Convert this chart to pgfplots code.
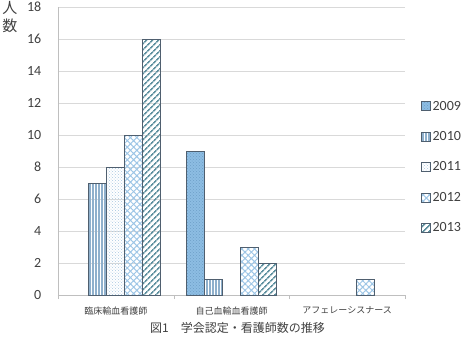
\documentclass[border=0pt]{standalone}
\usepackage{fontspec}
\setmainfont{Carlito}
\newfontfamily\cjk{Noto Sans CJK JP}
\usepackage{pgfplots}
\pgfplotsset{compat=1.18}
\usetikzlibrary{patterns,patterns.meta}
\definecolor{edge}{HTML}{4F5F6F}
\definecolor{blueA}{HTML}{8DBDE3}
\definecolor{dotA}{HTML}{6E9FC8}
\definecolor{lineB}{HTML}{8FB0CC}
\definecolor{dotC}{HTML}{A9C8E0}
\definecolor{hatchD}{HTML}{9EC6E6}
\definecolor{lineE}{HTML}{5E909F}
\definecolor{gridc}{HTML}{D9D9D9}
\definecolor{axisc}{HTML}{BFBFBF}
\definecolor{txt}{HTML}{404040}
\begin{document}
\begin{tikzpicture}
\useasboundingbox (-58pt,-43pt) rectangle (410pt,295pt);
\begin{axis}[
  at={(0,0)}, anchor=south west,
  scale only axis, width=347pt, height=288pt,
  xmin=-0.5, xmax=2.5, ymin=0, ymax=18,
  ybar=0pt, bar width=18pt,
  xtick={0,1,2},
  xticklabels={臨床輸血看護師,自己血輸血看護師,アフェレーシスナース},
  xticklabel style={font=\cjk\fontsize{9}{11}\selectfont, yshift=-4pt, text=txt},
  minor xtick={-0.5,0.5,1.5,2.5},
  major x tick style={draw=none},
  minor x tick style={axisc},
  minor tick length=4pt,
  tick align=outside, xtick pos=bottom, ytick pos=left,
  ytick={0,2,...,18},
  major y tick style={draw=none},
  yticklabel style={font=\fontsize{14}{16}\selectfont, xshift=-9pt, text=txt},
  /pgf/number format/assume math mode=true,
  ymajorgrids, grid style={gridc, line width=0.8pt},
  axis x line*=bottom, axis y line*=left,
  axis line style={axisc, line width=0.8pt},
  x axis line style={-}, y axis line style={-},
  legend style={at={(1.045,0.444)}, anchor=west, draw=none, fill=none,
    font=\fontsize{14}{16}\selectfont, text=txt, row sep=15.8pt, inner sep=0pt},
  legend cell align=left,
  legend image code/.code={\draw[#1] (0pt,-4.5pt) rectangle (9pt,4.5pt);},
  every axis plot/.append style={draw=edge, line width=0.8pt},
  clip=false,
]
\addplot[fill=blueA, postaction={pattern=crosshatch dots, pattern color=dotA}] coordinates {(1,9)};
\addplot[pattern={Lines[angle=90, distance=3pt, line width=1.1pt]}, pattern color=lineB] coordinates {(0,7) (1,1)};
\addplot[pattern=crosshatch dots, pattern color=dotC] coordinates {(0,8)};
\addplot[pattern={Hatch[angle=45, distance=4.5pt, line width=1pt]}, pattern color=hatchD] coordinates {(0,10) (1,3) (2,1)};
\addplot[pattern={Lines[angle=45, distance=4pt, line width=1.7pt]}, pattern color=lineE] coordinates {(0,16) (1,2)};
\legend{2009,2010,2011,2012,2013}
\node[font=\cjk\fontsize{15}{18}\selectfont, align=center, anchor=north, inner sep=0pt, text=txt] at ([xshift=-48pt,yshift=6pt]rel axis cs:0,1) {人\\数};
\node[font=\cjk\fontsize{12}{14}\selectfont, inner sep=0pt, text=txt] at ([xshift=6pt,yshift=-33pt]rel axis cs:0.5,0) {図1　学会認定・看護師数の推移};
\end{axis}
\end{tikzpicture}
\end{document}
